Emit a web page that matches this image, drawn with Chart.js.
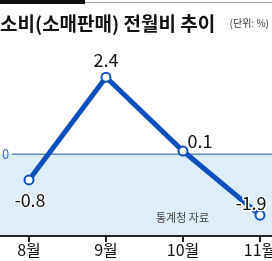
<!DOCTYPE html>
<html>
<head>
<meta charset="utf-8">
<script src="https://cdn.jsdelivr.net/npm/chart.js@4"></script>
<style>
  html, body { margin: 0; padding: 0; background: #fff; }
  #wrap { position: relative; width: 272px; height: 261px; }
</style>
</head>
<body>
<div id="wrap"><canvas id="c" width="272" height="261"></canvas></div>
<script>
// 소비(소매판매) 전월비 추이 — 단위 %
const months = ["8월", "9월", "10월", "11월"];
const values = [-0.8, 2.4, 0.1, -1.9];
const valueLabels = ["-0.8", "2.4", "0.1", "-1.9"];

const LINE_COLOR = "#0d4fbd";
const ZERO_COLOR = "#5b8cc8";
const FILL_COLOR = "#ddeef9";
const FONT = "'Noto Sans CJK KR', 'Noto Sans', sans-serif";

// 제목, 상단 바, 0 기준선과 음수 영역 배경
const framePlugin = {
  id: "frame",
  beforeDraw(chart) {
    const { ctx, width, scales } = chart;
    const y0 = scales.y.getPixelForValue(0);
    const yb = chart.chartArea.bottom;
    ctx.save();
    ctx.fillStyle = FILL_COLOR;
    ctx.fillRect(0, y0, width, yb - y0);
    ctx.strokeStyle = ZERO_COLOR;
    ctx.lineWidth = 1.5;
    ctx.beginPath();
    ctx.moveTo(12, y0);
    ctx.lineTo(width, y0);
    ctx.stroke();
    ctx.fillStyle = "#3d70b8";
    ctx.font = "13px " + FONT;
    ctx.textBaseline = "middle";
    ctx.fillText("0", 2, y0);

    // 상단 장식선
    ctx.fillStyle = "#111";
    ctx.fillRect(0, 0, 85, 4);
    ctx.fillStyle = "#999";
    ctx.fillRect(85, 2, width - 85, 1);

    // 제목
    ctx.fillStyle = "#111";
    ctx.textBaseline = "alphabetic";
    ctx.font = "bold 19px " + FONT;
    ctx.fillText("소비(소매판매) 전월비 추이", 0, 31);
    ctx.font = "10px " + FONT;
    ctx.fillStyle = "#333";
    ctx.textAlign = "right";
    ctx.fillText("(단위: %)", 269, 27);

    // 출처
    ctx.font = "11px " + FONT;
    ctx.fillStyle = "#444";
    ctx.textAlign = "left";
    ctx.fillText("통계청 자료", 156, 222);
    ctx.restore();
  },
  afterDraw(chart) {
    const { ctx, width, scales } = chart;
    const yb = chart.chartArea.bottom;
    ctx.save();
    ctx.strokeStyle = "#222";
    ctx.lineWidth = 2;
    ctx.beginPath();
    ctx.moveTo(0, yb);
    ctx.lineTo(width, yb);
    ctx.stroke();
    ctx.lineWidth = 2;
    months.forEach((m, i) => {
      const x = scales.x.getPixelForValue(i);
      ctx.beginPath();
      ctx.moveTo(x, yb);
      ctx.lineTo(x, yb + 6);
      ctx.stroke();
    });
    ctx.restore();
  },
};

// 값 라벨
const labelOffsets = [
  { dx: 1, dy: 20 },
  { dx: 0, dy: -17 },
  { dx: 17, dy: -10 },
  { dx: -9, dy: -12 },
];

const valueLabelPlugin = {
  id: "valueLabels",
  afterDatasetsDraw(chart) {
    const { ctx } = chart;
    const meta = chart.getDatasetMeta(0);
    ctx.save();
    ctx.font = "18px " + FONT;
    ctx.textBaseline = "middle";
    ctx.textAlign = "center";
    meta.data.forEach((pt, i) => {
      const o = labelOffsets[i];
      const x = pt.x + o.dx;
      const y = pt.y + o.dy;
      ctx.lineWidth = 3;
      ctx.strokeStyle = "#fff";
      ctx.lineJoin = "round";
      ctx.strokeText(valueLabels[i], x, y);
      ctx.fillStyle = "#111";
      ctx.fillText(valueLabels[i], x, y);
    });
    ctx.restore();
  },
};

new Chart(document.getElementById("c").getContext("2d"), {
  type: "line",
  data: {
    labels: months,
    datasets: [
      {
        data: values,
        borderColor: LINE_COLOR,
        borderWidth: 5,
        tension: 0,
        pointRadius: 4.5,
        pointBorderWidth: 2,
        pointBackgroundColor: "#fff",
        pointBorderColor: LINE_COLOR,
      },
    ],
  },
  plugins: [framePlugin, valueLabelPlugin],
  options: {
    responsive: false,
    animation: false,
    layout: { autoPadding: false, padding: { left: 29, right: 12, top: 42, bottom: 0 } },
    plugins: { legend: { display: false }, tooltip: { enabled: false } },
    scales: {
      x: {
        offset: false,
        grid: { display: false, drawTicks: false },
        border: { display: false },
        ticks: { color: "#111", font: { size: 16, family: FONT }, padding: 4, maxRotation: 0 },
        afterFit(scale) {
          scale.height = 25;
          scale.paddingLeft = 0;
          scale.paddingRight = 0;
        },
      },
      y: {
        display: false,
        min: -2.55,
        max: 3.5,
      },
    },
  },
});
</script>
</body>
</html>
